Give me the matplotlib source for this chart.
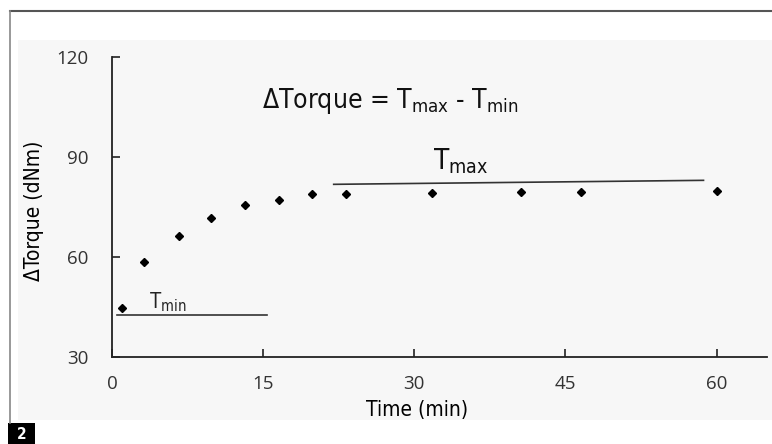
import matplotlib.pyplot as plt
from matplotlib.patches import Rectangle

# data
time_min = [1.0, 3.2, 6.6, 9.8, 13.2, 16.6, 19.8, 23.2, 31.8, 40.6, 46.5, 60.0]
torque = [44.7, 58.5, 66.3, 71.7, 75.7, 77.2, 79.0, 79.0, 79.2, 79.5, 79.5, 79.9]
tmin_x = [0.5, 15.4]
tmin_y = [42.7, 42.7]
tmax_x = [22.0, 58.7]
tmax_y = [81.8, 83.0]
xticks = [0, 15, 30, 45, 60]
yticks = [30, 60, 90, 120]

plt.rcParams['mathtext.fontset'] = 'custom'
plt.rcParams['mathtext.rm'] = 'DejaVu Sans:stretch=condensed'
plt.rcParams['mathtext.it'] = 'DejaVu Sans:stretch=condensed'
cond = dict(family='DejaVu Sans', stretch='condensed')

W, H = 772, 444
fig = plt.figure(figsize=(W / 100, H / 100), dpi=100)

# frame + scanned grey background
bg = fig.add_axes([0, 0, 1, 1], zorder=-5)
bg.set_xlim(0, W)
bg.set_ylim(H, 0)
bg.axis('off')
bg.add_patch(Rectangle((18, 40), W, 380, facecolor='#f7f7f7', edgecolor='none'))
bg.plot([10, W], [11, 11], color='#555555', lw=1.5)
bg.plot([10, 10], [11, 423], color='#888888', lw=1.2)
bg.add_patch(Rectangle((8, 423), 27, 21, facecolor='black', edgecolor='none'))
bg.text(21.5, 434, '2', color='white', fontsize=11, fontweight='bold',
        ha='center', va='center', **cond)

ax = fig.add_axes([112 / W, (H - 357) / H, (767 - 112) / W, 300 / H], zorder=2)
ax.set_facecolor('none')
ax.set_xlim(0, 65)
ax.set_ylim(30, 120)
for s in ['top', 'right']:
    ax.spines[s].set_visible(False)
for s in ['left', 'bottom']:
    ax.spines[s].set_color('#222222')
    ax.spines[s].set_linewidth(1.3)
ax.set_xticks(xticks)
ax.set_yticks(yticks)
ax.tick_params(direction='in', length=6, width=1.2, colors='#222222', labelsize=13.5,
               labelcolor='#333333')
ax.tick_params(axis='x', pad=13)
ax.tick_params(axis='y', pad=17)
for lab in ax.get_xticklabels() + ax.get_yticklabels():
    lab.set_family('Open Sans')

ax.plot(time_min, torque, 'D', color='black', markersize=4.5, clip_on=False)
ax.plot(tmin_x, tmin_y, color='#333333', lw=1.2)
ax.plot(tmax_x, tmax_y, color='#333333', lw=1.2)

ax.text(3.7, 44.7, r'T$_{\mathrm{min}}$', fontsize=15, family='Open Sans', color='#222222',
        va='baseline')
ax.text(31.9, 86.4, r'T$_{\mathrm{max}}$', fontsize=20, color='#111111', va='baseline', **cond)
ax.text(14.9, 104.7, r'ΔTorque = T$_{\mathrm{max}}$ - T$_{\mathrm{min}}$', fontsize=19,
        color='#111111', va='baseline', **cond)

bg.text(417, 410, 'Time (min)', fontsize=15, ha='center', va='center', **cond)
bg.text(34, 211, 'ΔTorque (dNm)', fontsize=15, rotation=90, ha='center', va='center', **cond)

fig.savefig('out.png', dpi=100)
